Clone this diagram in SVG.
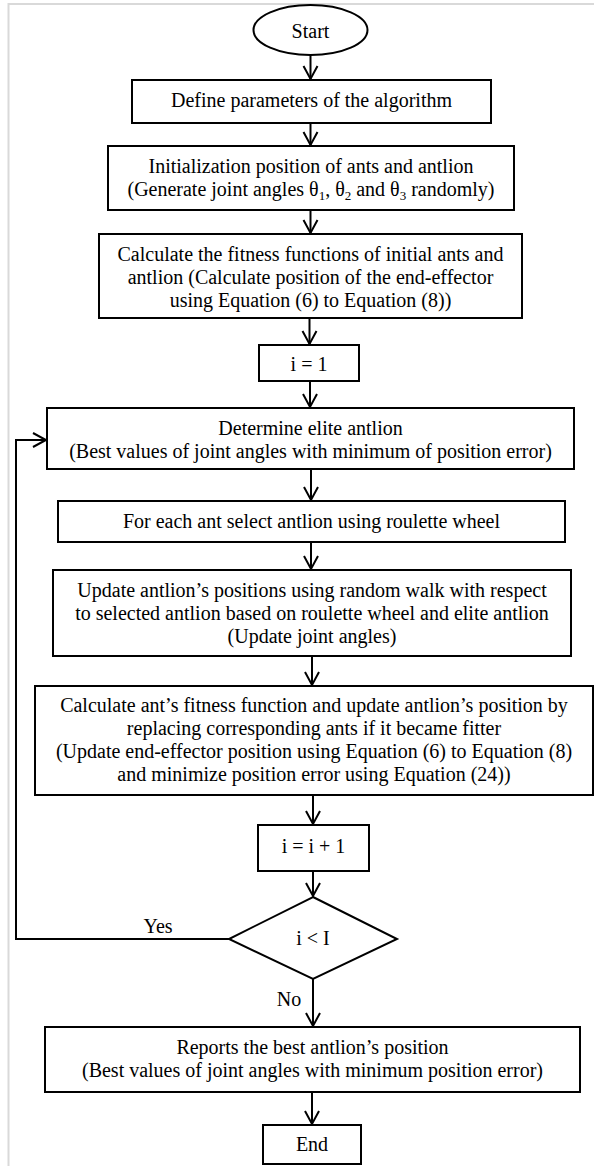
<svg xmlns="http://www.w3.org/2000/svg" width="594" height="1166" viewBox="0 0 594 1166">
<style>
.box{fill:#fff;stroke:#000;stroke-width:2}
.t{font-family:"Liberation Serif","Times New Roman",serif;font-size:20px;fill:#000;text-anchor:middle}
.c{fill:none;stroke:#000;stroke-width:2}
.frame{fill:none;stroke:#d9d9d9;stroke-width:2}
</style>
<defs>
<marker id="ah" markerUnits="userSpaceOnUse" markerWidth="20" markerHeight="20" viewBox="-15 -10 17 20" refX="0" refY="0" orient="auto">
<path d="M-13,-7 L0,0 L-13,7" fill="none" stroke="#000" stroke-width="2"/>
</marker>
</defs>
<rect width="594" height="1166" fill="#fff"/>
<path class="frame" d="M8.5,1166 V4 H594"/>

<g id="start"><ellipse class="box" cx="310.5" cy="30" rx="57" ry="25"/><text class="t" x="310.5" y="38">Start</text></g>
<g id="define"><rect class="box" x="132" y="80" width="359" height="43"/><text class="t" x="311.5" y="107">Define parameters of the algorithm</text></g>
<g id="init"><rect class="box" x="108" y="146" width="406" height="64"/><text class="t" x="311" y="173">Initialization position of ants and antlion</text><text class="t" x="311" y="196">(Generate joint angles θ<tspan font-size="13" dy="4">1</tspan><tspan dy="-4">, θ</tspan><tspan font-size="13" dy="4">2</tspan><tspan dy="-4"> and θ</tspan><tspan font-size="13" dy="4">3</tspan><tspan dy="-4"> randomly)</tspan></text></g>
<g id="fitness"><rect class="box" x="99" y="234" width="423" height="84"/><text class="t" x="310.5" y="261">Calculate the fitness functions of initial ants and</text><text class="t" x="310.5" y="284">antlion (Calculate position of the end-effector</text><text class="t" x="310.5" y="307">using Equation (6) to Equation (8))</text></g>
<g id="i1"><rect class="box" x="259" y="345" width="100" height="36"/><text class="t" x="309" y="371">i = 1</text></g>
<g id="elite"><rect class="box" x="47" y="408" width="527" height="61"/><text class="t" x="310.5" y="435">Determine elite antlion</text><text class="t" x="310.5" y="458">(Best values of joint angles with minimum of position error)</text></g>
<g id="select"><rect class="box" x="58" y="501" width="507" height="41"/><text class="t" x="311.5" y="528">For each ant select antlion using roulette wheel</text></g>
<g id="update"><rect class="box" x="53" y="570" width="518" height="86"/><text class="t" x="312" y="597">Update antlion’s positions using random walk with respect</text><text class="t" x="312" y="620">to selected antlion based on roulette wheel and elite antlion</text><text class="t" x="312" y="643">(Update joint angles)</text></g>
<g id="calc"><rect class="box" x="35" y="686" width="558" height="109"/><text class="t" x="314" y="712">Calculate ant’s fitness function and update antlion’s position by</text><text class="t" x="314" y="735">replacing corresponding ants if it became fitter</text><text class="t" x="314" y="758">(Update end-effector position using Equation (6) to Equation (8)</text><text class="t" x="314" y="781">and minimize position error using Equation (24))</text></g>
<g id="inc"><rect class="box" x="258" y="825" width="111" height="46"/><text class="t" x="313.5" y="853">i = i + 1</text></g>
<g id="decision"><polygon class="box" points="313,897 397,939 313,979 229,939"/><text class="t" x="313" y="945">i &lt; I</text></g>
<g id="report"><rect class="box" x="45" y="1027" width="535" height="65"/><text class="t" x="312.5" y="1054">Reports the best antlion’s position</text><text class="t" x="312.5" y="1077">(Best values of joint angles with minimum position error)</text></g>
<g id="end"><rect class="box" x="263" y="1125" width="98" height="39"/><text class="t" x="312" y="1151">End</text></g>

<g id="connectors">
<line class="c" x1="310.5" y1="55" x2="310.5" y2="79" marker-end="url(#ah)"/>
<line class="c" x1="310.5" y1="123" x2="310.5" y2="145" marker-end="url(#ah)"/>
<line class="c" x1="310.5" y1="210" x2="310.5" y2="233" marker-end="url(#ah)"/>
<line class="c" x1="309.5" y1="318" x2="309.5" y2="344" marker-end="url(#ah)"/>
<line class="c" x1="310" y1="381" x2="310" y2="407" marker-end="url(#ah)"/>
<line class="c" x1="311" y1="469" x2="311" y2="500" marker-end="url(#ah)"/>
<line class="c" x1="311" y1="542" x2="311" y2="569" marker-end="url(#ah)"/>
<line class="c" x1="312" y1="656" x2="312" y2="685" marker-end="url(#ah)"/>
<line class="c" x1="313" y1="795" x2="313" y2="824" marker-end="url(#ah)"/>
<line class="c" x1="313" y1="871" x2="313" y2="896" marker-end="url(#ah)"/>
<line class="c" x1="313" y1="979" x2="313" y2="1026" marker-end="url(#ah)"/>
<line class="c" x1="312" y1="1092" x2="312" y2="1124" marker-end="url(#ah)"/>
<polyline class="c" points="229,939 16,939 16,440 46,440" marker-end="url(#ah)"/>
<text class="t" x="158" y="933">Yes</text>
<text class="t" x="289" y="1006">No</text>
</g>
</svg>
